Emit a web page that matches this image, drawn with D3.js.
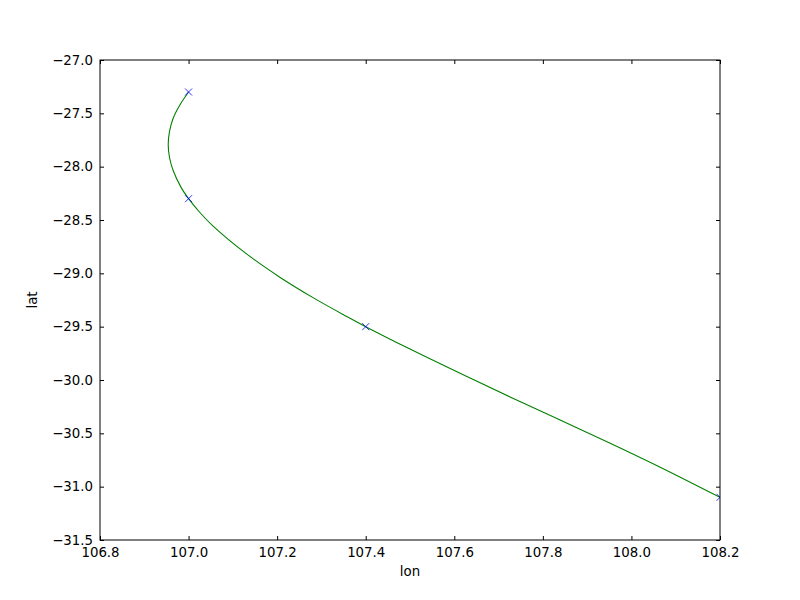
<!DOCTYPE html>
<html>
<head>
<meta charset="utf-8">
<script src="https://cdn.jsdelivr.net/npm/d3@7"></script>
<style>
  body { margin: 0; background: #fff; }
</style>
</head>
<body>
<script>
// fixes (blue x markers)
const lon = [107.0, 107.0, 107.4, 108.2];
const lat = [-27.3, -28.3, -29.5, -31.1];

// smoothed track (green line)
const trackLon = [107.0, 106.980, 106.965, 106.957, 106.954, 106.957, 106.965, 106.983, 107.0,
  107.026, 107.056, 107.131, 107.206, 107.282, 107.357, 107.4,
  107.5, 107.613, 107.726, 107.839, 107.952, 108.065, 108.2];
const trackLat = [-27.3, -27.424, -27.548, -27.670, -27.792, -27.914, -28.034, -28.194, -28.3,
  -28.432, -28.559, -28.818, -29.036, -29.23, -29.404, -29.5,
  -29.71, -29.937, -30.159, -30.376, -30.592, -30.817, -31.1];

const xTicks = [106.8, 107.0, 107.2, 107.4, 107.6, 107.8, 108.0, 108.2];
const yTicks = [-27.0, -27.5, -28.0, -28.5, -29.0, -29.5, -30.0, -30.5, -31.0, -31.5];

const width = 800, height = 600;
const m = { left: 100, right: 80, top: 60, bottom: 60 };
const fontSize = 13.33;
const font = '"DejaVu Sans", sans-serif';

const svg = d3.select('body').append('svg')
  .attr('width', width)
  .attr('height', height);

const x = d3.scaleLinear().domain([106.8, 108.2]).range([m.left, width - m.right]);
const y = d3.scaleLinear().domain([-31.5, -27.0]).range([height - m.bottom, m.top]);

svg.append('clipPath').attr('id', 'plot')
  .append('rect')
  .attr('x', m.left).attr('y', m.top)
  .attr('width', width - m.left - m.right)
  .attr('height', height - m.top - m.bottom);

const pts = lon.map((d, i) => [d, lat[i]]);
const track = trackLon.map((d, i) => [d, trackLat[i]]);

const line = d3.line()
  .x(d => x(d[0]))
  .y(d => y(d[1]))
  .curve(d3.curveCatmullRom.alpha(0.5));

const plot = svg.append('g').attr('clip-path', 'url(#plot)');

plot.append('path')
  .datum(track)
  .attr('d', line)
  .attr('fill', 'none')
  .attr('stroke', '#008000')
  .attr('stroke-width', 1.1);

// x markers
const ms = 3.5;
plot.selectAll('path.mk')
  .data(pts)
  .enter().append('path')
  .attr('class', 'mk')
  .attr('d', d => {
    const cx = x(d[0]), cy = y(d[1]);
    return `M${cx - ms},${cy - ms}L${cx + ms},${cy + ms}M${cx - ms},${cy + ms}L${cx + ms},${cy - ms}`;
  })
  .attr('stroke', '#0000ff')
  .attr('stroke-width', 0.8)
  .attr('fill', 'none');

// axes: ticks inward on all four sides
const fmt = d3.format('.1f');
const minus = s => s.replace('-', '\u2212');

const axBottom = svg.append('g')
  .attr('transform', `translate(0,${height - m.bottom})`)
  .call(d3.axisBottom(x).tickValues(xTicks).tickSizeInner(-4).tickSizeOuter(0).tickPadding(8).tickFormat(fmt));
const axTop = svg.append('g')
  .attr('transform', `translate(0,${m.top})`)
  .call(d3.axisTop(x).tickValues(xTicks).tickSizeInner(-4).tickSizeOuter(0).tickFormat(''));
const axLeft = svg.append('g')
  .attr('transform', `translate(${m.left},0)`)
  .call(d3.axisLeft(y).tickValues(yTicks).tickSizeInner(-4).tickSizeOuter(0).tickPadding(7).tickFormat(d => minus(fmt(d))));
const axRight = svg.append('g')
  .attr('transform', `translate(${width - m.right},0)`)
  .call(d3.axisRight(y).tickValues(yTicks).tickSizeInner(-4).tickSizeOuter(0).tickFormat(''));

[axBottom, axTop, axLeft, axRight].forEach(g => {
  g.attr('font-size', fontSize).attr('font-family', font);
  g.select('.domain').remove();
  g.selectAll('line').attr('stroke', '#000');
  g.selectAll('text').attr('fill', '#000');
});

// frame
svg.append('rect')
  .attr('x', m.left).attr('y', m.top)
  .attr('width', width - m.left - m.right)
  .attr('height', height - m.top - m.bottom)
  .attr('fill', 'none')
  .attr('stroke', '#000')
  .attr('stroke-width', 1);

svg.append('text')
  .attr('x', (m.left + width - m.right) / 2)
  .attr('y', 576)
  .attr('text-anchor', 'middle')
  .attr('font-size', fontSize)
  .attr('font-family', font)
  .text('lon');

svg.append('text')
  .attr('transform', `translate(37,${(m.top + height - m.bottom) / 2}) rotate(-90)`)
  .attr('text-anchor', 'middle')
  .attr('font-size', fontSize)
  .attr('font-family', font)
  .text('lat');
</script>
</body>
</html>
